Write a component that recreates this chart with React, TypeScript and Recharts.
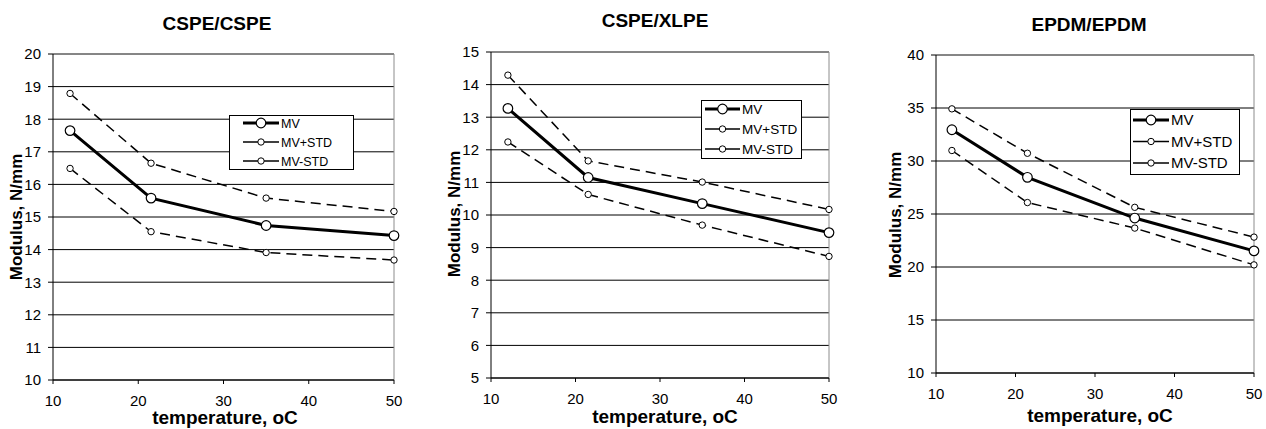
import React from 'react';
import { LineChart, Line, XAxis, YAxis, CartesianGrid, ReferenceLine } from 'recharts';

const FONT = '"Liberation Sans", Arial, sans-serif';

// ---- data ----
const temperatures = [12, 21.5, 35, 50];
const xTicks = [10, 20, 30, 40, 50];
const seriesNames = ['MV', 'MV+STD', 'MV-STD'];
const chartTitles = ['CSPE/CSPE', 'CSPE/XLPE', 'EPDM/EPDM'];
const xAxisTitle = 'temperature, oC';
const yAxisTitle = 'Modulus, N/mm';

const cspeCspeMV = [17.65, 15.58, 14.74, 14.43];
const cspeCspePlus = [18.79, 16.65, 15.58, 15.17];
const cspeCspeMinus = [16.49, 14.55, 13.91, 13.68];
const cspeCspeTicks = [10, 11, 12, 13, 14, 15, 16, 17, 18, 19, 20];

const cspeXlpeMV = [13.27, 11.15, 10.35, 9.46];
const cspeXlpePlus = [14.29, 11.66, 11.01, 10.17];
const cspeXlpeMinus = [12.24, 10.63, 9.69, 8.73];
const cspeXlpeTicks = [5, 6, 7, 8, 9, 10, 11, 12, 13, 14, 15];

const epdmMV = [32.95, 28.46, 24.62, 21.52];
const epdmPlus = [34.92, 30.73, 25.63, 22.82];
const epdmMinus = [30.99, 26.08, 23.67, 20.2];
const epdmTicks = [10, 15, 20, 25, 30, 35, 40];

const buildRows = (mv: number[], plus: number[], minus: number[]) =>
  temperatures.map((t, i) => ({ t, mv: mv[i], plus: plus[i], minus: minus[i] }));

const panels = [
  {
    rows: buildRows(cspeCspeMV, cspeCspePlus, cspeCspeMinus),
    yTicks: cspeCspeTicks,
    left: 0, width: 420,
    margin: { top: 54, right: 26, bottom: 19, left: 8 },
    title: { x: 217, y: 30 },
    xTitle: { x: 225, y: 424 },
    yTitle: { x: 22, y: 217 },
    legend: { x: 229, y: 115, w: 124, h: 54, fs: 12.5, row: 19, lineX: 243, lineW: 36 },
  },
  {
    rows: buildRows(cspeXlpeMV, cspeXlpePlus, cspeXlpeMinus),
    yTicks: cspeXlpeTicks,
    left: 420, width: 420,
    margin: { top: 52, right: 11, bottom: 21, left: 26 },
    title: { x: 655, y: 27 },
    xTitle: { x: 665, y: 423 },
    yTitle: { x: 460, y: 214 },
    legend: { x: 701, y: 100, w: 100, h: 58, fs: 13.5, row: 20, lineX: 705, lineW: 35 },
  },
  {
    rows: buildRows(epdmMV, epdmPlus, epdmMinus),
    yTicks: epdmTicks,
    left: 846, width: 420,
    margin: { top: 55, right: 12, bottom: 26, left: 45 },
    title: { x: 1089, y: 31 },
    xTitle: { x: 1100, y: 422 },
    yTitle: { x: 901, y: 215 },
    legend: { x: 1130, y: 109, w: 109, h: 65, fs: 15, row: 21.5, lineX: 1133, lineW: 36 },
  },
];

const tickStyle = { fontSize: 15, fill: '#000', fontFamily: FONT };

function Panel({ p }: { p: any }) {
  const yMin = p.yTicks[0];
  const yMax = p.yTicks[p.yTicks.length - 1];
  return (
    <div style={{ position: 'absolute', left: p.left, top: 0 }}>
      <LineChart width={p.width} height={429} data={p.rows} margin={p.margin}>
        <CartesianGrid horizontal vertical={false} stroke="#000" strokeWidth={1} />
        <ReferenceLine y={yMax} stroke="#8c8c8c" strokeWidth={1} />
        <ReferenceLine x={50} stroke="#8c8c8c" strokeWidth={1} />
        <XAxis
          type="number"
          dataKey="t"
          domain={[10, 50]}
          ticks={xTicks}
          interval={0}
          height={30}
          tickSize={4}
          tickMargin={11}
          tick={tickStyle}
          stroke="#000"
          axisLine={{ stroke: '#000' }}
          tickLine={{ stroke: '#000' }}
        />
        <YAxis
          type="number"
          domain={[yMin, yMax]}
          ticks={p.yTicks}
          interval={0}
          width={45}
          tickSize={5}
          tickMargin={7}
          tick={tickStyle}
          stroke="#000"
          axisLine={{ stroke: '#000' }}
          tickLine={{ stroke: '#000' }}
          allowDataOverflow
        />
        <Line
          dataKey="plus"
          stroke="#000"
          strokeWidth={1.5}
          strokeDasharray="10 6"
          dot={{ r: 3.2, fill: '#fff', stroke: '#000', strokeWidth: 1, strokeDasharray: '' }}
          isAnimationActive={false}
        />
        <Line
          dataKey="minus"
          stroke="#000"
          strokeWidth={1.5}
          strokeDasharray="10 6"
          dot={{ r: 3.2, fill: '#fff', stroke: '#000', strokeWidth: 1, strokeDasharray: '' }}
          isAnimationActive={false}
        />
        <Line
          dataKey="mv"
          stroke="#000"
          strokeWidth={3}
          dot={{ r: 4.8, fill: '#fff', stroke: '#000', strokeWidth: 1.2 }}
          isAnimationActive={false}
        />
      </LineChart>
    </div>
  );
}

function LegendBox({ l }: { l: any }) {
  return (
    <g>
      <rect x={l.x + 0.5} y={l.y + 0.5} width={l.w} height={l.h} fill="#fff" stroke="#000" strokeWidth={1} />
      {seriesNames.map((name, i) => {
        const cy = l.y + l.h / 2 + (i - 1) * l.row;
        const isMV = i === 0;
        const cx = l.lineX + l.lineW / 2;
        return (
          <g key={name}>
            <line x1={l.lineX} x2={l.lineX + l.lineW} y1={cy} y2={cy} stroke="#000" strokeWidth={isMV ? 3 : 1.6} />
            <circle cx={cx} cy={cy} r={isMV ? 4.8 : 3.2} fill="#fff" stroke="#000" strokeWidth={isMV ? 1.2 : 1} />
            <text x={l.lineX + l.lineW + 2} y={cy} dy="0.36em" fontSize={l.fs} fontFamily={FONT} fill="#000">
              {name}
            </text>
          </g>
        );
      })}
    </g>
  );
}

export default function App() {
  return (
    <div style={{ position: 'absolute', left: 0, top: 0, width: 1266, height: 429, background: '#fff', overflow: 'hidden' }}>
      {panels.map((p, i) => (
        <Panel key={i} p={p} />
      ))}
      <svg
        width={1266}
        height={429}
        style={{ position: 'absolute', left: 0, top: 0, pointerEvents: 'none' }}
      >
        {panels.map((p, i) => (
          <g key={i}>
            <text x={p.title.x} y={p.title.y} textAnchor="middle" fontSize={19} fontWeight="bold" fontFamily={FONT} fill="#000">
              {chartTitles[i]}
            </text>
            <text x={p.xTitle.x} y={p.xTitle.y} textAnchor="middle" fontSize={19} fontWeight="bold" fontFamily={FONT} fill="#000">
              {xAxisTitle}
            </text>
            <text
              x={p.yTitle.x}
              y={p.yTitle.y}
              textAnchor="middle"
              fontSize={17}
              fontWeight="bold"
              fontFamily={FONT}
              fill="#000"
              transform={`rotate(-90 ${p.yTitle.x} ${p.yTitle.y})`}
            >
              {yAxisTitle}
            </text>
            <LegendBox l={p.legend} />
          </g>
        ))}
      </svg>
    </div>
  );
}
